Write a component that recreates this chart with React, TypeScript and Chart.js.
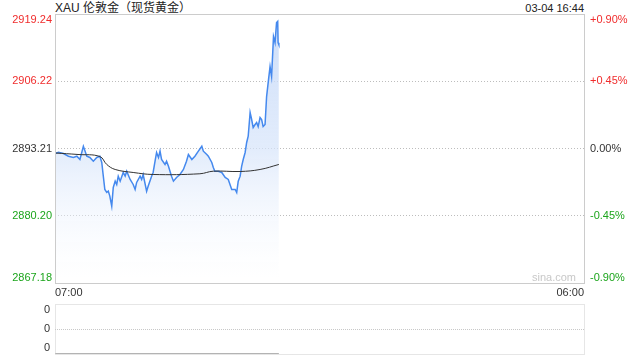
import React, { useEffect, useRef } from "react";
import { Chart, registerables } from "chart.js";

Chart.register(...registerables);

// ---- data ----
const titleText = "XAU 伦敦金（现货黄金）";
const timeText = "03-04 16:44";
const xLabels = ["07:00", "06:00"];
const xMin = 0;
const xMax = 1380; // minutes from 07:00 to 06:00 next day

const minutes = [0,9,22,35,48,57,65,74,83,91,100,109,117,122,126,130,135,139,143,148,152,157,161,165,170,178,183,187,196,204,209,213,222,226,230,239,243,252,256,261,265,270,274,278,287,291,296,304,309,317,326,335,343,348,357,365,374,383,387,396,400,409,413,417,426,435,444,452,461,470,474,478,483,487,491,496,500,504,509,513,517,522,526,530,535,539,543,548,552,557,561,565,570,574,578,581,582,584];
const prices = [2892.24,2892.49,2892.24,2891.72,2891.47,2891.72,2891.08,2893.65,2891.72,2891.47,2890.76,2891.47,2891.72,2890.50,2887.86,2885.28,2884.70,2884.96,2883.99,2882.06,2885.67,2886.89,2886.25,2887.86,2886.89,2888.57,2887.86,2888.82,2887.22,2886.25,2885.28,2886.64,2887.86,2887.22,2888.18,2884.96,2885.92,2887.86,2888.57,2890.76,2892.44,2891.47,2892.69,2891.08,2890.12,2890.76,2889.79,2887.86,2886.89,2887.60,2888.18,2889.15,2890.76,2892.05,2891.08,2891.72,2892.69,2893.65,2892.69,2892.05,2891.72,2890.50,2889.54,2888.82,2888.82,2888.57,2887.60,2887.22,2885.28,2885.28,2884.70,2886.89,2887.86,2889.79,2891.08,2892.44,2894.37,2895.59,2900.17,2898.82,2897.27,2897.85,2898.24,2897.46,2899.20,2898.82,2897.46,2897.85,2903.26,2906.55,2909.06,2907.13,2914.86,2913.70,2917.57,2917.82,2913.70,2913.31];

const avgMinutes = [0,60,117,135,157,204,256,378,413,483,535,584];
const avgPrices = [2892.34,2892.05,2891.66,2890.12,2889.15,2888.57,2888.18,2888.32,2888.82,2888.76,2889.15,2890.12];

const priceTicks = [2919.24, 2906.22, 2893.21, 2880.20, 2867.18];
const pctTicks = ["+0.90%", "+0.45%", "0.00%", "-0.45%", "-0.90%"];
const volTickValues = [2, 1, 0];
const volTickLabels = ["0", "0", "0"];
const volMinutes = [0, 584];
const volValues = [0, 0];

const FONT = "'Liberation Sans', Arial, 'Noto Sans CJK SC', sans-serif";
const RED = "#f02c2c";
const GREEN = "#1ca51c";
const DARK = "#333333";
const tickColor = (i: number) => (i < 2 ? RED : i === 2 ? DARK : GREEN);

const mainLabels = {
  id: "mainLabels",
  afterDraw(chart: any) {
    const { ctx, chartArea: a, scales } = chart;
    const y = scales.y;
    const x = scales.x;
    ctx.save();
    ctx.strokeStyle = "#cccccc";
    ctx.lineWidth = 1;
    ctx.strokeRect(Math.round(a.left) + 0.5, Math.round(a.top) + 0.5, Math.round(a.right - a.left), Math.round(a.bottom - a.top));
    ctx.font = `11px ${FONT}`;
    ctx.textBaseline = "middle";
    priceTicks.forEach((v, i) => {
      let py = y.getPixelForValue(v);
      py = Math.min(Math.max(py, a.top + 6), a.bottom - 5);
      ctx.fillStyle = tickColor(i);
      ctx.textAlign = "right";
      ctx.fillText(v.toFixed(2), a.left - 3, py);
      ctx.textAlign = "left";
      ctx.fillText(pctTicks[i], a.right + 6, py);
    });
    ctx.fillStyle = DARK;
    ctx.textAlign = "left";
    ctx.fillText(xLabels[0], x.getPixelForValue(xMin), a.bottom + 10);
    ctx.textAlign = "right";
    ctx.fillText(xLabels[1], x.getPixelForValue(xMax), a.bottom + 10);
    ctx.fillStyle = "#c8c8c8";
    ctx.fillText("sina.com", a.right - 8, a.bottom - 5);
    ctx.restore();
  },
};

const volLabels = {
  id: "volLabels",
  afterDraw(chart: any) {
    const { ctx, chartArea: a, scales } = chart;
    const y = scales.y;
    ctx.save();
    ctx.strokeStyle = "#cccccc";
    ctx.setLineDash([1, 1]);
    ctx.strokeRect(Math.round(a.left) + 0.5, Math.round(a.top) + 0.5, Math.round(a.right - a.left), Math.round(a.bottom - a.top));
    ctx.setLineDash([]);
    ctx.font = `11px ${FONT}`;
    ctx.textBaseline = "middle";
    ctx.textAlign = "right";
    ctx.fillStyle = DARK;
    volTickValues.forEach((v, i) => {
      let py = y.getPixelForValue(v);
      py = Math.min(Math.max(py, a.top + 6), a.bottom - 6);
      ctx.fillText(volTickLabels[i], a.left - 5, py);
    });
    ctx.restore();
  },
};

export default function App() {
  const mainRef = useRef<HTMLCanvasElement>(null);
  const volRef = useRef<HTMLCanvasElement>(null);

  useEffect(() => {
    const priceData = minutes.map((m, i) => ({ x: m, y: prices[i] }));
    const avgData = avgMinutes.map((m, i) => ({ x: m, y: avgPrices[i] }));
    const main = new Chart(mainRef.current!, {
      type: "line",
      data: {
        datasets: [
          {
            data: avgData,
            borderColor: "#333333",
            borderWidth: 1,
            pointRadius: 0,
            tension: 0.4,
            fill: false,
          },
          {
            data: priceData,
            borderColor: "#4589ee",
            borderWidth: 1.5,
            pointRadius: 0,
            tension: 0,
            fill: "start",
            backgroundColor: (c: any) => {
              const a = c.chart.chartArea;
              if (!a) return "rgba(200,220,250,0.5)";
              const g = c.chart.ctx.createLinearGradient(0, a.top, 0, a.bottom);
              g.addColorStop(0, "rgba(196,216,248,0.85)");
              g.addColorStop(0.5, "rgba(214,228,250,0.7)");
              g.addColorStop(1, "rgba(255,255,255,0.2)");
              return g;
            },
          },
        ],
      },
      options: {
        animation: false,
        responsive: false,
        maintainAspectRatio: false,
        layout: { padding: { left: 55, right: 56, top: 14, bottom: 17 } },
        plugins: { legend: { display: false }, tooltip: { enabled: false } },
        scales: {
          x: {
            type: "linear",
            min: xMin,
            max: xMax,
            grid: { display: false },
            border: { display: false },
            ticks: { display: false },
            afterFit: (s: any) => { s.height = 0; },
          },
          y: {
            min: priceTicks[4],
            max: priceTicks[0],
            afterBuildTicks: (s: any) => { s.ticks = priceTicks.map((v) => ({ value: v })); },
            ticks: { display: false },
            grid: {
              drawTicks: false,
              color: (c: any) => (c.index === 0 || c.index === 4 ? "rgba(0,0,0,0)" : "#bdbdbd"),
            },
            border: { display: false, dash: [1, 2] },
            afterFit: (s: any) => { s.width = 0; },
          },
        },
      },
      plugins: [mainLabels],
    });

    const vol = new Chart(volRef.current!, {
      type: "line",
      data: {
        datasets: [
          {
            data: volMinutes.map((m, i) => ({ x: m, y: volValues[i] })),
            borderColor: "#666666",
            borderWidth: 1,
            pointRadius: 0,
          },
        ],
      },
      options: {
        animation: false,
        responsive: false,
        maintainAspectRatio: false,
        layout: { padding: { left: 55, right: 56, top: 4, bottom: 6 } },
        plugins: { legend: { display: false }, tooltip: { enabled: false } },
        scales: {
          x: {
            type: "linear",
            min: xMin,
            max: xMax,
            grid: { display: false },
            border: { display: false },
            ticks: { display: false },
            afterFit: (s: any) => { s.height = 0; },
          },
          y: {
            min: 0,
            max: 2,
            afterBuildTicks: (s: any) => { s.ticks = volTickValues.map((v) => ({ value: v })); },
            ticks: { display: false },
            grid: {
              drawTicks: false,
              color: (c: any) => (c.tick && c.tick.value === 1 ? "#c8c8c8" : "rgba(0,0,0,0)"),
            },
            border: { display: false, dash: [1, 1] },
            afterFit: (s: any) => { s.width = 0; },
          },
        },
      },
      plugins: [volLabels],
    });

    return () => {
      main.destroy();
      vol.destroy();
    };
  }, []);

  return (
    <div style={{ position: "fixed", left: 0, top: 0, width: 640, height: 360, background: "#fff", fontFamily: FONT }}>
      <div style={{ position: "absolute", left: 55, top: 1, fontSize: 12, lineHeight: "14px", color: "#222", whiteSpace: "nowrap" }}>
        {titleText}
      </div>
      <div style={{ position: "absolute", right: 56, top: 1, fontSize: 11, lineHeight: "14px", color: "#222", whiteSpace: "nowrap" }}>
        {timeText}
      </div>
      <canvas ref={mainRef} width={640} height={300} style={{ position: "absolute", left: 0, top: 0, width: 640, height: 300 }} />
      <canvas ref={volRef} width={640} height={60} style={{ position: "absolute", left: 0, top: 300, width: 640, height: 60 }} />
    </div>
  );
}
